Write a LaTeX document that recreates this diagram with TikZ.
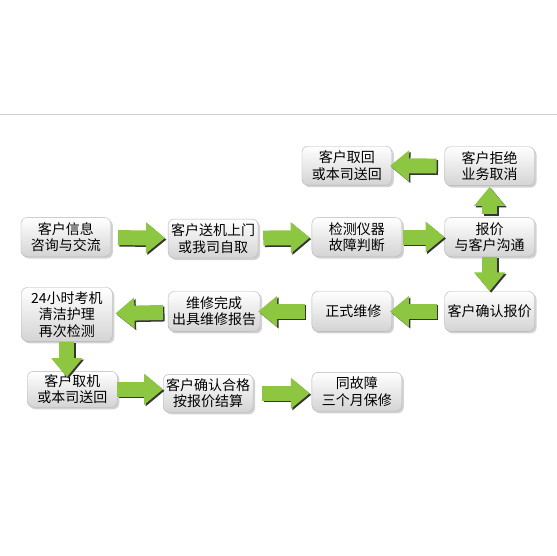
\documentclass[tikz,border=0pt]{standalone}
\usepackage{fontspec}
\newfontfamily\cjk{Noto Sans CJK SC}
\usetikzlibrary{arrows.meta,shadows}
\definecolor{flecha}{HTML}{8DC641}
\definecolor{sombra}{HTML}{353535}
\definecolor{borde}{HTML}{B4B4B4}
\begin{document}
\begin{tikzpicture}[x=1pt, y=-1pt,
  caja/.style={draw=borde, rounded corners=6pt, top color=white, bottom color=black!17,
    minimum width=90pt, minimum height=39pt, inner sep=1pt, align=center,
    font=\cjk\fontsize{14}{16.5}\selectfont,
    drop shadow={shadow xshift=2pt, shadow yshift=-2pt, opacity=0.35}},
  flujo/.style={line width=15pt, draw=flecha, -{Triangle[length=19pt, width=30pt]},
    preaction={draw=sombra, line width=15pt, -{Triangle[length=19pt, width=30pt]},
      transform canvas={shift={(1.5pt,-1.5pt)}}}}]
\fill[white] (0,0) rectangle (557,557);
\draw[black!18, line width=1pt] (0,114.5) -- (557,114.5);
% Fila 1
\node[caja] (info) at (65.5,237.5) {客户信息\\咨询与交流};
\node[caja] (envio) at (213,239) {客户送机上门\\或我司自取};
\node[caja] (detec) at (357,237.5) {检测仪器\\故障判断};
\node[caja] (precio) at (490,237.5) {报价\\与客户沟通};
% Rechazo
\node[caja] (rechazo) at (490,166.5) {客户拒绝\\业务取消};
\node[caja] (retiro) at (347,166) {客户取回\\或本司送回};
% Fila 2
\node[caja, minimum height=40pt] (acepta) at (490,312) {客户确认报价};
\node[caja, minimum height=40pt, minimum width=80pt] (repara) at (352,312) {\ 正式维修};
\node[caja, minimum height=40pt, minimum width=92pt] (informe) at (214,312) {维修完成\\出具维修报告};
\node[caja, minimum height=54pt, minimum width=91pt] (prueba) at (66.5,315) {24小时考机\\清洁护理\\再次检测};
% Fila 3
\node[caja, minimum height=36pt] (recoge) at (72,390) {客户取机\\或本司送回};
\node[caja, minimum height=38pt] (pago) at (208,394) {客户确认合格\\按报价结算};
\node[caja] (garantia) at (357,392.5) {同故障\\三个月保修};
% Flechas
\draw[flujo, shorten <=7pt, shorten >=3pt, yshift=3pt] (info) -- (envio);
\draw[flujo, shorten <=5pt, shorten >=2pt] (envio) -- (detec);
\draw[flujo, shorten <=1pt, shorten >=0pt, yshift=2pt] (detec) -- (precio);
\draw[flujo, shorten <=3pt, shorten >=1pt, xshift=-2pt] (precio) -- (rechazo);
\draw[flujo, shorten <=8pt, shorten >=-2pt] (rechazo) -- (retiro);
\draw[flujo, xshift=0pt] (precio.south) -- (acepta.north);
\draw[flujo, shorten <=8pt, shorten >=-2pt] (acepta) -- (repara);
\draw[flujo, shorten <=7pt, shorten >=-2pt] (repara) -- (informe);
\draw[flujo, shorten <=5pt, shorten >=3pt, yshift=3pt] (informe) -- (prueba);
\draw[flujo, shorten >=-6pt, xshift=-5pt] (prueba.south) -- (prueba.south |- recoge.north);
\draw[flujo, shorten <=0pt, shorten >=0pt, yshift=1pt] (recoge) -- (recoge -| pago.west);
\draw[flujo, shorten <=9pt, shorten >=2pt] (pago) -- (pago -| garantia.west);
\end{tikzpicture}
\end{document}
